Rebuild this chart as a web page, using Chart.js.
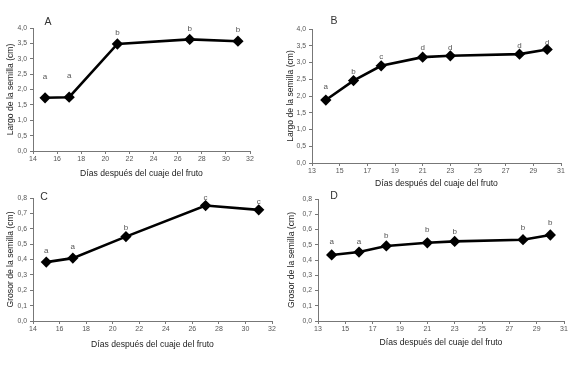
<!DOCTYPE html>
<html>
<head>
<meta charset="utf-8">
<script src="https://cdn.jsdelivr.net/npm/chart.js@4.4.0/dist/chart.umd.min.js"></script>
<style>
  body { margin: 0; background: #fff; width: 574px; height: 369px; position: relative; overflow: hidden; }
  canvas { position: absolute; }
</style>
</head>
<body>
<canvas id="gA" width="287" height="185" style="left:0px;top:0px"></canvas>
<canvas id="gB" width="294" height="195" style="left:280px;top:0px"></canvas>
<canvas id="gC" width="287" height="184" style="left:0px;top:185px"></canvas>
<canvas id="gD" width="292" height="184" style="left:282px;top:185px"></canvas>
<script>
// DATOS
const diasAC = [15, 17, 21, 27, 31];
const diasBD = [14, 16, 18, 21, 23, 28, 30];

const largoA = [1.73, 1.75, 3.48, 3.63, 3.57];
const largoB = [1.88, 2.46, 2.90, 3.16, 3.20, 3.25, 3.39];
const grosorC = [0.383, 0.409, 0.549, 0.751, 0.723];
const grosorD = [0.433, 0.452, 0.492, 0.513, 0.522, 0.533, 0.564];

// letras de significancia y altura (cm) donde van
const letrasA = ["a", "a", "b", "b", "b"];
const alturaLetrasA = [2.41, 2.43, 3.83, 3.96, 3.93];
const letrasB = ["a", "b", "c", "d", "d", "d", "d"];
const alturaLetrasB = [2.26, 2.72, 3.17, 3.44, 3.44, 3.49, 3.59];
const letrasC = ["a", "a", "b", "c", "c"];
const alturaLetrasC = [0.458, 0.482, 0.606, 0.80, 0.773];
const letrasD = ["a", "a", "b", "b", "b", "b", "b"];
const alturaLetrasD = [0.522, 0.522, 0.559, 0.595, 0.586, 0.608, 0.641];

// ticks
const ticksXAC = [14, 16, 18, 20, 22, 24, 26, 28, 30, 32];
const ticksXBD = [13, 15, 17, 19, 21, 23, 25, 27, 29, 31];
const ticksLargo = [0, 0.5, 1, 1.5, 2, 2.5, 3, 3.5, 4];
const ticksGrosor = [0, 0.1, 0.2, 0.3, 0.4, 0.5, 0.6, 0.7, 0.8];

const TITULO_X = "Días después del cuaje del fruto";
const FUENTE = '"Liberation Sans", Arial, sans-serif';

// Plugin para letras sobre los puntos y la letra del panel
const letrasPlugin = {
    id: 'letras',
    afterDatasetsDraw(chart, args, opts) {
        const ctx = chart.ctx;
        const xs = chart.scales.x, ys = chart.scales.y;
        ctx.save();
        ctx.fillStyle = '#555';
        ctx.font = '8px ' + FUENTE;
        ctx.textAlign = 'center';
        ctx.textBaseline = 'middle';
        opts.letras.forEach((l, i) => {
            ctx.fillText(l, xs.getPixelForValue(opts.dias[i]), ys.getPixelForValue(opts.alturas[i]));
        });
        ctx.fillStyle = '#333';
        ctx.font = '10.5px ' + FUENTE;
        ctx.fillText(opts.panel, chart.chartArea.left + opts.dx, chart.chartArea.top + opts.dy);
        ctx.restore();
    }
};

function coma(v, dec) {
    return v.toFixed(dec).replace('.', ',');
}

function crearPanel(id, p) {
    const ctx = document.getElementById(id).getContext('2d');
    return new Chart(ctx, {
        type: 'line',
        data: {
            datasets: [{
                data: p.dias.map((d, i) => ({ x: d, y: p.valores[i] })),
                borderColor: '#000',
                borderWidth: 2.6,
                pointStyle: 'rectRot',
                pointRadius: 3.8,
                pointBackgroundColor: '#000',
                pointBorderColor: '#000',
                tension: 0,
                clip: false
            }]
        },
        options: {
            responsive: false,
            animation: false,
            events: [],
            layout: { padding: { left: p.pad.left, top: p.pad.top, right: p.pad.right, bottom: p.pad.bottom } },
            plugins: {
                legend: { display: false },
                tooltip: { enabled: false },
                letras: { letras: p.letras, alturas: p.alturas, dias: p.dias, panel: p.panel, dx: p.dx, dy: p.dy }
            },
            scales: {
                x: {
                    type: 'linear',
                    min: p.ticksX[0],
                    max: p.ticksX[p.ticksX.length - 1],
                    afterBuildTicks: s => { s.ticks = p.ticksX.map(v => ({ value: v })); },
                    afterFit: s => { s.height = p.altoX; },
                    border: { color: '#777', width: 1 },
                    grid: { drawOnChartArea: false, drawTicks: true, tickLength: 3, color: '#777' },
                    ticks: { color: '#555', font: { family: FUENTE, size: 7 }, padding: 1, maxRotation: 0 },
                    title: { display: true, text: TITULO_X, color: '#222', font: { family: FUENTE, size: 8.6 }, padding: 4 }
                },
                y: {
                    min: 0,
                    max: p.ticksY[p.ticksY.length - 1],
                    afterBuildTicks: s => { s.ticks = p.ticksY.map(v => ({ value: v })); },
                    afterFit: s => { s.width = p.anchoY; },
                    border: { color: '#777', width: 1 },
                    grid: { drawOnChartArea: false, drawTicks: true, tickLength: 3, color: '#777' },
                    ticks: { color: '#555', font: { family: FUENTE, size: 6.8 }, padding: 3, callback: v => coma(v, 1) },
                    title: { display: true, text: p.tituloY, color: '#222', font: { family: FUENTE, size: 8.6 }, padding: 4 }
                }
            }
        },
        plugins: [letrasPlugin]
    });
}

addEventListener("DOMContentLoaded", () => {
    crearPanel('gA', {
        dias: diasAC, valores: largoA, letras: letrasA, alturas: alturaLetrasA,
        ticksX: ticksXAC, ticksY: ticksLargo, tituloY: "Largo de la semilla (cm)",
        panel: "A", dx: 15, dy: -6,
        pad: { left: 1, top: 28, right: 37, bottom: 2 }, anchoY: 32, altoX: 32
    });
    crearPanel('gB', {
        dias: diasBD, valores: largoB, letras: letrasB, alturas: alturaLetrasB,
        ticksX: ticksXBD, ticksY: ticksLargo, tituloY: "Largo de la semilla (cm)",
        panel: "B", dx: 22, dy: -8,
        pad: { left: 1, top: 29, right: 13, bottom: 2 }, anchoY: 31, altoX: 30
    });
    crearPanel('gC', {
        dias: diasAC, valores: grosorC, letras: letrasC, alturas: alturaLetrasC,
        ticksX: ticksXAC, ticksY: ticksGrosor, tituloY: "Grosor de la semilla (cm)",
        panel: "C", dx: 11, dy: -1,
        pad: { left: 1, top: 13, right: 15, bottom: 15 }, anchoY: 32, altoX: 33
    });
    crearPanel('gD', {
        dias: diasBD, valores: grosorD, letras: letrasD, alturas: alturaLetrasD,
        ticksX: ticksXBD, ticksY: ticksGrosor, tituloY: "Grosor de la semilla (cm)",
        panel: "D", dx: 16, dy: -3,
        pad: { left: 0.5, top: 14, right: 10, bottom: 17 }, anchoY: 35.5, altoX: 31
    });
});
</script>
</body>
</html>
